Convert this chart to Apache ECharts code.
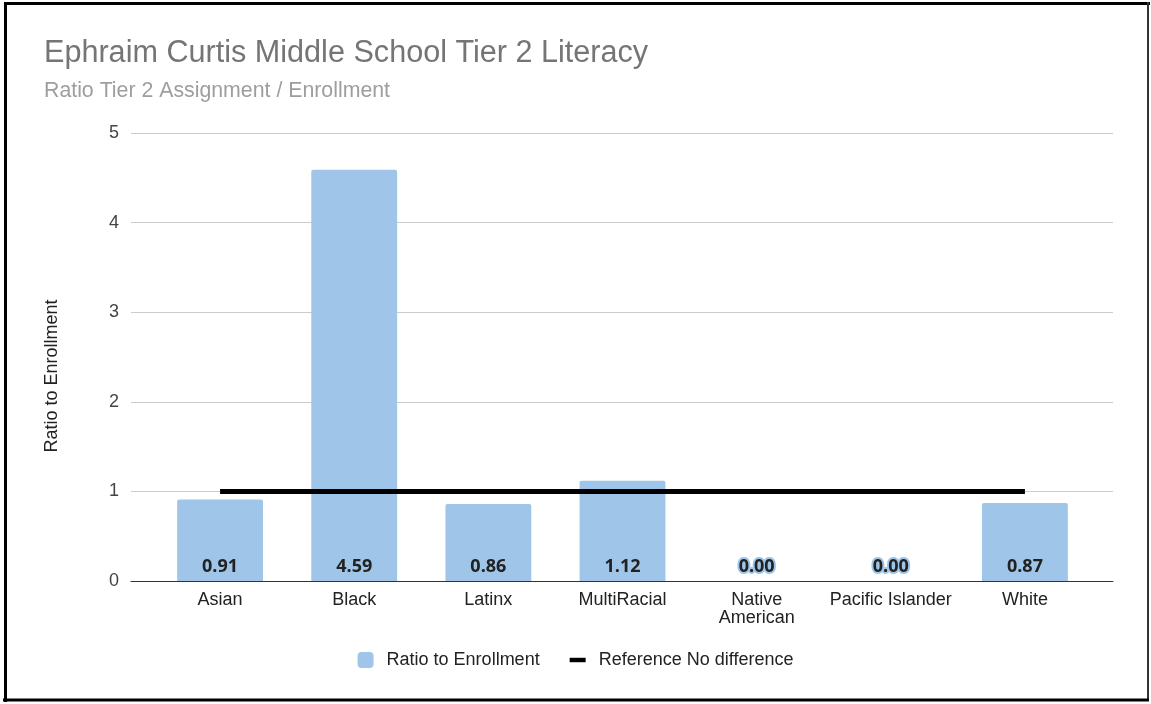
<!DOCTYPE html>
<html>
<head>
<meta charset="utf-8">
<script src="https://cdn.jsdelivr.net/npm/echarts@6/dist/echarts.min.js"></script>
<style>
html,body{margin:0;padding:0;background:#fff;}
#chart{width:1151px;height:704px;}
</style>
</head>
<body>
<div id="chart"></div>
<script>
const categories = ['Asian', 'Black', 'Latinx', 'MultiRacial', 'Native American', 'Pacific Islander', 'White'];
const ratioValues = [0.91, 4.59, 0.86, 1.12, 0.00, 0.00, 0.87];
const referenceValues = [1, 1, 1, 1, 1, 1, 1];
const yTicks = [0, 1, 2, 3, 4, 5];
const titleText = 'Ephraim Curtis Middle School Tier 2 Literacy';
const subtitleText = 'Ratio Tier 2 Assignment / Enrollment';
const yAxisName = 'Ratio to Enrollment';
const seriesNames = ['Ratio to Enrollment', 'Reference No difference'];
const labelBreaks = {'Native American': 'Native\nAmerican'};

const SANS = '"Liberation Sans", Arial, sans-serif';
const chart = echarts.init(document.getElementById('chart'), null, {renderer: 'canvas'});

const option = {
  backgroundColor: '#ffffff',
  animation: false,
  title: [
    {text: titleText, left: 44, top: 38, padding: 0,
     textStyle: {fontFamily: SANS, fontSize: 30.6, fontWeight: 'normal', color: '#757575'}},
    {text: subtitleText, left: 44, top: 81, padding: 0,
     textStyle: {fontFamily: SANS, fontSize: 21.3, fontWeight: 'normal', color: '#9e9e9e'}}
  ],
  legend: {
    bottom: 30, left: 'center',
    itemWidth: 16, itemHeight: 16, itemGap: 30,
    textStyle: {fontFamily: SANS, fontSize: 18, color: '#222', padding: [0, 0, 0, 8]},
    data: [
      {name: seriesNames[0], icon: 'roundRect'},
      {name: seriesNames[1], icon: 'path://M0,0 H18 V5 H0 Z', itemStyle: {color: '#000'}}
    ]
  },
  grid: [
    {left: 131, right: 38, top: 133, bottom: 123},
    {left: 153, right: 59, top: 133, bottom: 123}
  ],
  xAxis: [
    {type: 'value', gridIndex: 0, min: 0, max: 1, show: true,
     axisLine: {show: true, onZero: false, lineStyle: {color: '#333', width: 1}},
     axisTick: {show: false}, axisLabel: {show: false}, splitLine: {show: false}},
    {type: 'category', gridIndex: 1, data: categories,
     axisLine: {show: false}, axisTick: {show: false},
     axisLabel: {fontFamily: SANS, fontSize: 18, color: '#222', margin: 10, lineHeight: 18,
                 interval: 0, formatter: v => labelBreaks[v] || v}}
  ],
  yAxis: [
    {type: 'value', gridIndex: 0, min: yTicks[0], max: yTicks[yTicks.length - 1], interval: 1,
     name: yAxisName, nameLocation: 'middle', nameGap: 70,
     nameTextStyle: {fontFamily: SANS, fontSize: 18, color: '#222', padding: [0, 38, 0, 0]},
     axisLine: {show: false}, axisTick: {show: false},
     axisLabel: {fontFamily: SANS, fontSize: 18, color: '#444', margin: 12},
     splitLine: {show: true, lineStyle: {color: '#cccccc', width: 1}}},
    {type: 'value', gridIndex: 1, min: yTicks[0], max: yTicks[yTicks.length - 1], interval: 1,
     show: false, splitLine: {show: false}}
  ],
  series: [
    {
      name: seriesNames[0], type: 'bar', xAxisIndex: 1, yAxisIndex: 1,
      data: ratioValues, barWidth: '64%',
      itemStyle: {color: '#9fc5e8', borderRadius: [2, 2, 0, 0]},
      label: {
        show: true, position: 'insideBottom', distance: 5,
        formatter: p => p.value.toFixed(2),
        fontFamily: '"Open Sans", sans-serif', fontWeight: 'bold', fontSize: 18, color: '#222',
        textBorderColor: '#9fc5e8', textBorderWidth: 4
      },
      z: 2
    },
    {
      name: seriesNames[1], type: 'line', xAxisIndex: 1, yAxisIndex: 1,
      data: referenceValues, symbol: 'none',
      lineStyle: {color: '#000', width: 5, cap: 'butt'},
      itemStyle: {color: '#000'},
      z: 3
    }
  ],
  graphic: [
    {type: 'line', shape: {x1: 5.5, y1: 2, x2: 5.5, y2: 702}, style: {stroke: '#000', lineWidth: 3}, z: 100},
    {type: 'line', shape: {x1: 4, y1: 3.5, x2: 1150, y2: 3.5}, style: {stroke: '#000', lineWidth: 3}, z: 100},
    {type: 'line', shape: {x1: 1148, y1: 2, x2: 1148, y2: 701}, style: {stroke: '#333', lineWidth: 2}, z: 100},
    {type: 'line', shape: {x1: 3, y1: 700, x2: 1149, y2: 700}, style: {stroke: '#000', lineWidth: 3}, z: 100}
  ]
};
chart.setOption(option);
</script>
</body>
</html>
